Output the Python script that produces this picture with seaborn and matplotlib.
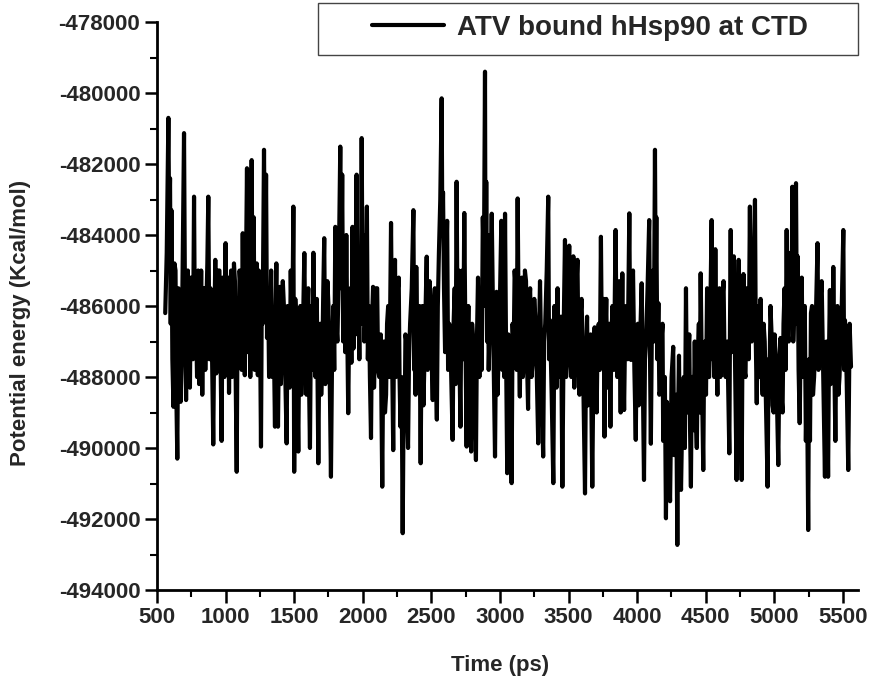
import numpy as np
import pandas as pd
import matplotlib
matplotlib.use("Agg")
import matplotlib.pyplot as plt
import seaborn as sns
from matplotlib.ticker import MultipleLocator
from matplotlib.patches import Rectangle

# Simulation time (ps)
time_ps = [
    560, 571, 583, 589, 595, 600, 605, 612, 620, 627, 635, 641, 648, 656, 665, 672, 680, 688, 697, 704,
    712, 718, 725, 732, 740, 747, 755, 762, 770, 777, 785, 792, 800, 807, 815, 822, 830, 837, 845, 852,
    860, 867, 874, 882, 890, 900, 910, 917, 925, 932, 940, 947, 955, 963, 971, 978, 985, 992, 1000, 1006,
    1012, 1018, 1025, 1032, 1040, 1047, 1055, 1061, 1068, 1074, 1081, 1088, 1095, 1102, 1110, 1117, 1125, 1132, 1140, 1148,
    1156, 1163, 1170, 1175, 1180, 1185, 1190, 1197, 1205, 1212, 1220, 1227, 1235, 1242, 1250, 1254, 1258, 1264, 1270, 1275,
    1280, 1288, 1295, 1302, 1310, 1317, 1325, 1332, 1340, 1350, 1360, 1365, 1370, 1376, 1382, 1389, 1396, 1403, 1410, 1417,
    1425, 1435, 1445, 1452, 1460, 1467, 1475, 1485, 1494, 1497, 1500, 1508, 1515, 1522, 1530, 1537, 1545, 1552, 1560, 1567,
    1574, 1582, 1590, 1596, 1603, 1609, 1615, 1621, 1628, 1634, 1640, 1647, 1655, 1665, 1676, 1683, 1690, 1697, 1705, 1712,
    1719, 1727, 1735, 1742, 1750, 1759, 1768, 1776, 1785, 1792, 1800, 1807, 1815, 1825, 1836, 1843, 1850, 1857, 1865, 1872,
    1880, 1887, 1894, 1902, 1910, 1917, 1925, 1932, 1940, 1947, 1955, 1962, 1970, 1975, 1980, 1986, 1992, 1998, 2005, 2011,
    2018, 2024, 2030, 2037, 2045, 2052, 2060, 2067, 2075, 2082, 2090, 2097, 2105, 2112, 2120, 2131, 2142, 2148, 2155, 2162,
    2170, 2177, 2185, 2195, 2206, 2214, 2222, 2228, 2235, 2242, 2250, 2256, 2262, 2268, 2275, 2283, 2291, 2298, 2305, 2311,
    2318, 2324, 2330, 2337, 2345, 2357, 2369, 2375, 2380, 2385, 2390, 2397, 2405, 2413, 2422, 2428, 2435, 2442, 2450, 2458,
    2466, 2473, 2480, 2487, 2495, 2502, 2510, 2517, 2525, 2532, 2540, 2547, 2555, 2565, 2575, 2580, 2585, 2592, 2600, 2607,
    2615, 2622, 2630, 2642, 2655, 2662, 2670, 2677, 2684, 2692, 2700, 2706, 2712, 2718, 2725, 2732, 2740, 2748, 2757, 2763,
    2770, 2780, 2790, 2797, 2805, 2815, 2825, 2832, 2840, 2850, 2860, 2867, 2875, 2883, 2891, 2895, 2900, 2906, 2912, 2918,
    2925, 2932, 2940, 2952, 2964, 2970, 2975, 2982, 2990, 3000, 3010, 3017, 3025, 3031, 3037, 3045, 3053, 3061, 3070, 3077,
    3085, 3092, 3100, 3107, 3115, 3122, 3129, 3137, 3145, 3152, 3160, 3167, 3175, 3182, 3190, 3197, 3205, 3212, 3220, 3230,
    3240, 3250, 3260, 3270, 3279, 3285, 3292, 3303, 3315, 3322, 3330, 3341, 3352, 3358, 3365, 3377, 3389, 3397, 3405, 3412,
    3420, 3427, 3435, 3445, 3455, 3465, 3474, 3482, 3490, 3497, 3505, 3512, 3520, 3527, 3535, 3542, 3550, 3557, 3565, 3572,
    3580, 3587, 3595, 3607, 3620, 3627, 3635, 3642, 3650, 3661, 3673, 3681, 3690, 3697, 3705, 3712, 3720, 3728, 3736, 3743,
    3750, 3756, 3762, 3768, 3775, 3782, 3790, 3797, 3805, 3812, 3820, 3831, 3843, 3849, 3855, 3862, 3870, 3875, 3880, 3886,
    3892, 3898, 3905, 3912, 3920, 3931, 3943, 3949, 3955, 3962, 3970, 3980, 3990, 3997, 4005, 4011, 4018, 4025, 4033, 4041,
    4050, 4057, 4065, 4076, 4088, 4094, 4100, 4107, 4115, 4122, 4130, 4135, 4140, 4147, 4155, 4162, 4170, 4177, 4185, 4190,
    4195, 4202, 4210, 4217, 4225, 4232, 4240, 4251, 4263, 4270, 4278, 4285, 4293, 4299, 4305, 4312, 4320, 4330, 4340, 4348,
    4356, 4363, 4370, 4375, 4380, 4386, 4392, 4398, 4405, 4412, 4420, 4427, 4435, 4442, 4450, 4456, 4463, 4472, 4482, 4488,
    4495, 4502, 4510, 4517, 4525, 4534, 4543, 4549, 4555, 4562, 4570, 4577, 4585, 4592, 4600, 4607, 4615, 4622, 4630, 4637,
    4645, 4658, 4672, 4677, 4682, 4688, 4695, 4700, 4705, 4715, 4725, 4732, 4740, 4751, 4762, 4768, 4775, 4782, 4790, 4797,
    4805, 4813, 4822, 4828, 4835, 4847, 4859, 4865, 4872, 4878, 4885, 4892, 4900, 4907, 4915, 4922, 4930, 4940, 4951, 4958,
    4965, 4972, 4980, 4987, 4995, 5002, 5010, 5020, 5029, 5037, 5045, 5052, 5060, 5067, 5075, 5082, 5090, 5097, 5105, 5111,
    5118, 5125, 5131, 5138, 5145, 5151, 5158, 5164, 5170, 5177, 5185, 5192, 5200, 5207, 5215, 5222, 5230, 5238, 5247, 5253,
    5260, 5267, 5275, 5282, 5290, 5302, 5315, 5322, 5330, 5337, 5345, 5357, 5369, 5375, 5380, 5386, 5392, 5398, 5405, 5411,
    5418, 5424, 5430, 5437, 5445, 5452, 5460, 5467, 5475, 5489, 5503, 5509, 5515, 5527, 5539, 5549, 5559,
]

# Potential energy of the complex (kcal/mol)
energy = [
    -486200, -484500, -480700, -483800, -482400, -486500, -483300, -487500, -488840, -484800,
    -485000, -488500, -490300, -485500, -486000, -488700, -487500, -484500, -481130, -486000,
    -488650, -486500, -485000, -487800, -488300, -485200, -485500, -487500, -482920, -487300,
    -486500, -488000, -485000, -488200, -487000, -485000, -488500, -486000, -485500, -487800,
    -486000, -484800, -482920, -487500, -485500, -487000, -489900, -486800, -484700, -487900,
    -486500, -485000, -485000, -487500, -489800, -485200, -486000, -488000, -484230, -487800,
    -486500, -485200, -488450, -486200, -485000, -488000, -486500, -484800, -485300, -488200,
    -490670, -485800, -487000, -485000, -485500, -487800, -483950, -486800, -487950, -485200,
    -482120, -487300, -486000, -484500, -488000, -485000, -481890, -486500, -483500, -487800,
    -485700, -484800, -487950, -485000, -486000, -487800, -489960, -485600, -486500, -484000,
    -481600, -485800, -482300, -486900, -485500, -488000, -486800, -485000, -488000, -486500,
    -489400, -486000, -484800, -487500, -489400, -486800, -485460, -488200, -487000, -485300,
    -486000, -488000, -489870, -486000, -486500, -488300, -485000, -487500, -483200, -487000,
    -490670, -485800, -486500, -488000, -490100, -486800, -486000, -488500, -487500, -486000,
    -484510, -487200, -488500, -486200, -485500, -488300, -490000, -487000, -486000, -487800,
    -484500, -487300, -488000, -485800, -490430, -487200, -486500, -488500, -487500, -485600,
    -484090, -488200, -487000, -485300, -486000, -488000, -490810, -487500, -486000, -487800,
    -483770, -486500, -487000, -485000, -481510, -485500, -482300, -487000, -485500, -487300,
    -484000, -486700, -489020, -486000, -485500, -487600, -483770, -487200, -486500, -485000,
    -482300, -486800, -486000, -487500, -484800, -486500, -481270, -485500, -484000, -487000,
    -486500, -485000, -483200, -487500, -486000, -488000, -489720, -486500, -485460, -488300,
    -487000, -485500, -485500, -487800, -488000, -486800, -491090, -488000, -487000, -489000,
    -488500, -486500, -486000, -488000, -483660, -487500, -490060, -486500, -484700, -488000,
    -487500, -485500, -485200, -488000, -489400, -488000, -492400, -488600, -489400, -486800,
    -487000, -489200, -490000, -487500, -486500, -485500, -483300, -487800, -486500, -488500,
    -484900, -487500, -488000, -486000, -490430, -487300, -486000, -488800, -487500, -486000,
    -484610, -487800, -487000, -485300, -486000, -487500, -488650, -486500, -485500, -487600,
    -489200, -486000, -484500, -483000, -480150, -484000, -482800, -485500, -487300, -485000,
    -483600, -487800, -486500, -487500, -489770, -486500, -485500, -488200, -482500, -487300,
    -485000, -487800, -489400, -486200, -485000, -487500, -483380, -486800, -489960, -487000,
    -486000, -488500, -490100, -486500, -487000, -488800, -490340, -487000, -485200, -488000,
    -486100, -487800, -483500, -485000, -479400, -486000, -482500, -487000, -484000, -487800,
    -486500, -485200, -483400, -487000, -490240, -487500, -485600, -488500, -487500, -485800,
    -483600, -487800, -486500, -488000, -483400, -487500, -490710, -486800, -487000, -488800,
    -490990, -486500, -487300, -485000, -485500, -487800, -482970, -486800, -488550, -486000,
    -485200, -488000, -487500, -485000, -485300, -487500, -488900, -486000, -485500, -488000,
    -487500, -485800, -486500, -488200, -489870, -486800, -485300, -488000, -490240, -487000,
    -486500, -485000, -482920, -487500, -486400, -488500, -490990, -486000, -487000, -488300,
    -485500, -487800, -488000, -486300, -491090, -486500, -484140, -488000, -487500, -485500,
    -484300, -487000, -488000, -485800, -484600, -488300, -487000, -485500, -484700, -487300,
    -488500, -486300, -485800, -488000, -491280, -487500, -486300, -488800, -488500, -486800,
    -491090, -487800, -486600, -488000, -489000, -486800, -486500, -487800, -484050, -487300,
    -487000, -485800, -489680, -487000, -485800, -488300, -488000, -486500, -489400, -487000,
    -486000, -487800, -483860, -486500, -488000, -486200, -485300, -487500, -489000, -486800,
    -485080, -487200, -488930, -486800, -486000, -487500, -483390, -486800, -487520, -485800,
    -485000, -487800, -489770, -487000, -486500, -488800, -488500, -486500, -485360, -488000,
    -490900, -487500, -487000, -485500, -483580, -487500, -489880, -486800, -485000, -487000,
    -481600, -485500, -483500, -487500, -485920, -488500, -488370, -487000, -486500, -489800,
    -489500, -488000, -491980, -488700, -489000, -490500, -491500, -488000, -487150, -490200,
    -490000, -488500, -492730, -489000, -487400, -490300, -491180, -488800, -488000, -490000,
    -485500, -488800, -489000, -487200, -486800, -489500, -491090, -488000, -488000, -489500,
    -487000, -489000, -490000, -487500, -486500, -489000, -485080, -488000, -490620, -487500,
    -487000, -488500, -485500, -488000, -488000, -486000, -483580, -487500, -486500, -488000,
    -484400, -487000, -488500, -486000, -485500, -488000, -487500, -485800, -485300, -487500,
    -488000, -487000, -490150, -486500, -483860, -487300, -487000, -485500, -484600, -488000,
    -490900, -487000, -484700, -488000, -490900, -487000, -485100, -487800, -488000, -485500,
    -486000, -487500, -483200, -486800, -487000, -485500, -483010, -487000, -488740, -486500,
    -486000, -488000, -485800, -487800, -488500, -486500, -487000, -489000, -491090, -487500,
    -488000, -486000, -486800, -488800, -489000, -486800, -487500, -488800, -490480, -487500,
    -486900, -488500, -489000, -486500, -485500, -487800, -483860, -486800, -487000, -485500,
    -484500, -486500, -482640, -487000, -486000, -484800, -482540, -486500, -484600, -487800,
    -489300, -486800, -485200, -488000, -487500, -486000, -489800, -488000, -492310, -487500,
    -489800, -486200, -486000, -488500, -488000, -486500, -484230, -487800, -487500, -485800,
    -485300, -488000, -490810, -487800, -487000, -489000, -490810, -487500, -485550, -488200,
    -486500, -487500, -484900, -487500, -489800, -486800, -486000, -488500, -488000, -486500,
    -483860, -487800, -486400, -488000, -490620, -486500, -487710,
]
series_label = "ATV bound hHsp90 at CTD"

x_ticks = [500, 1000, 1500, 2000, 2500, 3000, 3500, 4000, 4500, 5000, 5500]
y_ticks = [-494000, -492000, -490000, -488000, -486000, -484000, -482000, -480000, -478000]

df = pd.DataFrame({"Time (ps)": time_ps, "Potential energy": energy})

sns.set_style("ticks")
plt.rcParams["font.family"] = ["Liberation Sans", "DejaVu Sans"]

W, H = 876, 689
fig = plt.figure(figsize=(W / 100, H / 100), dpi=100)
ax = fig.add_axes([157 / W, 1 - 590 / H, 701 / W, 568 / H])

sns.lineplot(data=df, x="Time (ps)", y="Potential energy", color="black",
             linewidth=3.0, ax=ax, label=series_label, sort=False, estimator=None)

ax.set_xlim(500, 5610)
ax.set_ylim(-494000, -478000)
ax.set_xticks(x_ticks)
ax.set_yticks(y_ticks)
ax.xaxis.set_minor_locator(MultipleLocator(250))
ax.yaxis.set_minor_locator(MultipleLocator(1000))
ax.set_xticklabels([str(v) for v in x_ticks], fontsize=16, fontweight="bold")
ax.set_yticklabels([str(v) for v in y_ticks], fontsize=16, fontweight="bold")
ax.tick_params(which="major", direction="out", length=9, width=1.8, color="black", pad=3)
ax.tick_params(which="minor", direction="out", length=5, width=1.5, color="black")

for side in ("top", "right"):
    ax.spines[side].set_visible(False)
for side in ("left", "bottom"):
    ax.spines[side].set_linewidth(2)
    ax.spines[side].set_color("black")

ax.set_xlabel("Time (ps)", fontsize=16, fontweight="bold")
ax.set_ylabel("Potential energy (Kcal/mol)", fontsize=16, fontweight="bold")
ax.xaxis.set_label_coords((500 - 157) / 701, (590 - 655) / 568)
ax.yaxis.set_label_coords((31 - 157) / 701, (590 - 323) / 568)

# legend entry without its own frame; the box is drawn separately
leg = ax.legend(loc="center left", bbox_to_anchor=(372 / W, 1 - 28 / H),
                bbox_transform=fig.transFigure, frameon=False,
                handlelength=2.6, handletextpad=0.45, borderpad=0, borderaxespad=0,
                prop={"weight": "bold", "size": 20})
for line in leg.get_lines():
    line.set_linewidth(3)
fig.patches.append(Rectangle((318 / W, 1 - 55 / H), 540 / W, 52 / H,
                             transform=fig.transFigure, fill=False,
                             edgecolor="#444444", linewidth=1.0))

fig.savefig("out.png", dpi=100)
